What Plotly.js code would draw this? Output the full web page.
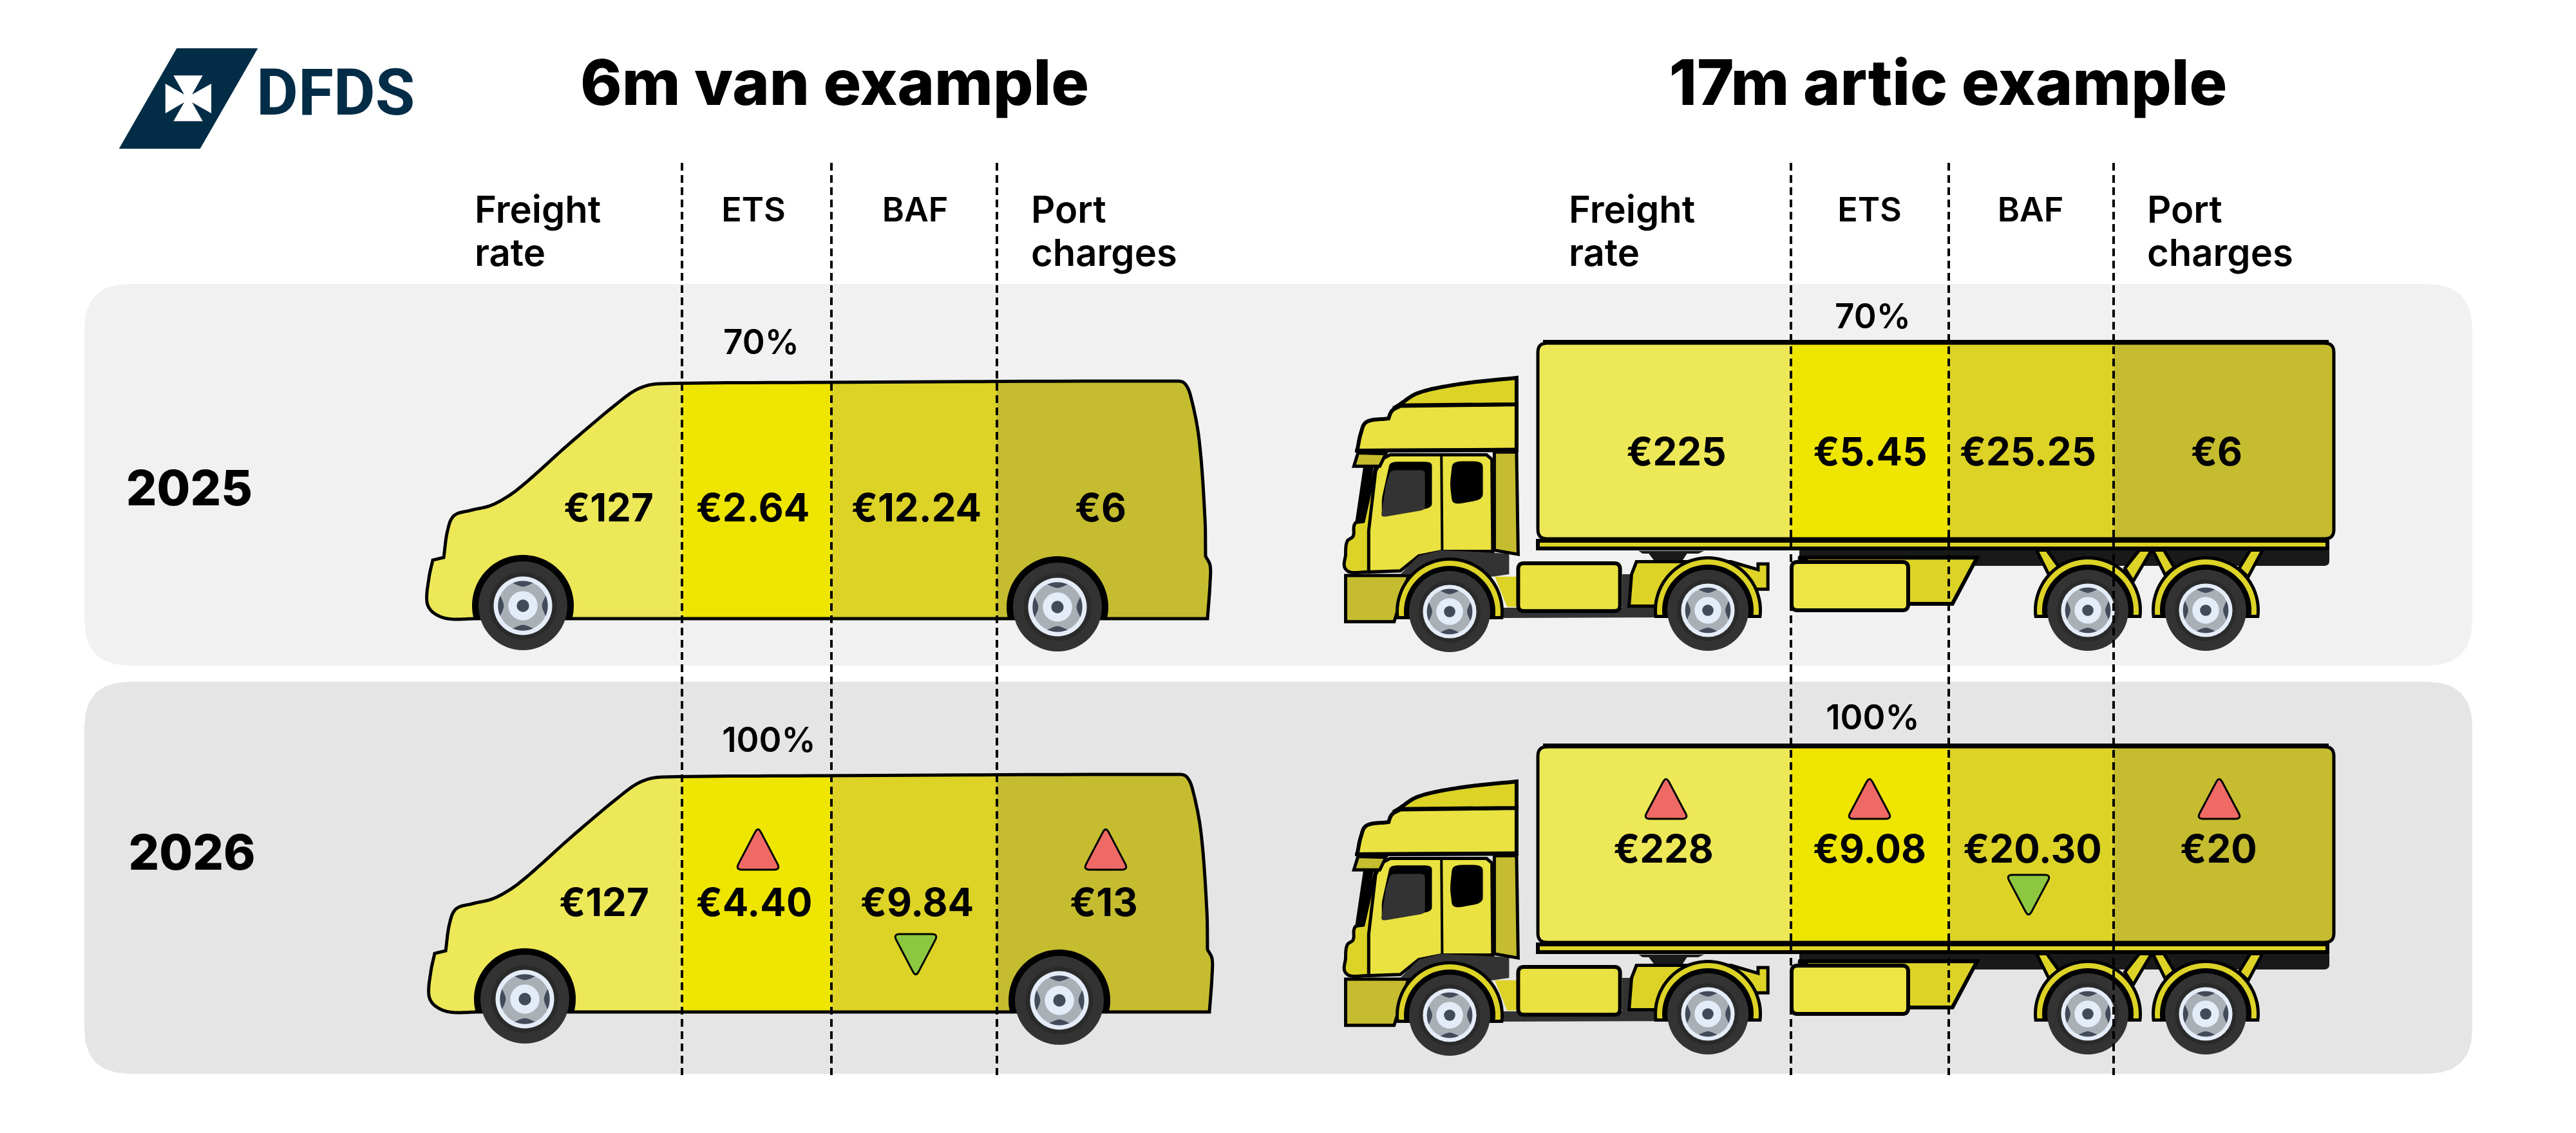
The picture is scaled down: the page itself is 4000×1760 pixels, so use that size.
<!DOCTYPE html>
<html><head><meta charset="utf-8">
<script src="https://cdn.plot.ly/plotly-3.0.1.min.js"></script>
<style>html,body{margin:0;padding:0;background:#fff}#c{width:4000px;height:1760px}</style>
</head><body><div id="c"></div>
<script>
// ---------- chart data ----------
const segments = ["Freight rate","ETS","BAF","Port charges"];
const years = ["2025","2026"];
const etsShare = ["70%","100%"];
const van2025 = [127,2.64,12.24,6];
const van2026 = [127,4.40,9.84,13];
const artic2025 = [225,5.45,25.25,6];
const artic2026 = [228,9.08,20.30,20];
const vehicleTitles = ["6m van example","17m artic example"];
const brand = "DFDS";

// ---------- palette ----------
const BAND = ["#ece857","#eee600","#dcd326","#c6bc2f"];
const INK = "#000000", NAVY = "#032c47", FONT = "Inter, 'Noto Sans', sans-serif";

// ---------- geometry helpers (illustration only) ----------
const shapes = [];
const pathOf = (p, close=true) => "M" + p.map(q => q[0].toFixed(1)+","+q[1].toFixed(1)).join("L") + (close?"Z":"");
function poly(p, fill, stroke, w){ shapes.push({type:"path",path:pathOf(p),xref:"x",yref:"y",layer:"below",
  fillcolor:fill||"rgba(0,0,0,0)",line:{color:stroke||"rgba(0,0,0,0)",width:stroke?(w||4):0}}); }
function line(p, color, w, dash){ shapes.push({type:"path",path:pathOf(p,false),xref:"x",yref:"y",layer:"below",
  line:{color:color,width:w,dash:dash||"solid"}}); }
function disc(cx,cy,r,fill){ shapes.push({type:"circle",xref:"x",yref:"y",layer:"below",x0:cx-r,x1:cx+r,y0:cy-r,y1:cy+r,
  fillcolor:fill,line:{width:0}}); }
function smooth(pts){
  const out=[]; const unit=(i)=>{const a=pts[Math.max(i-1,0)],b=pts[Math.min(i+1,pts.length-1)];
    const dx=b[0]-a[0],dy=b[1]-a[1],d=Math.hypot(dx,dy)||1;return [dx/d,dy/d];};
  for(let i=0;i<pts.length-1;i++){const p=pts[i],q=pts[i+1],d=Math.hypot(q[0]-p[0],q[1]-p[1]);
    const u=unit(i),v=unit(i+1);
    const c1=[p[0]+u[0]*d/3,p[1]+u[1]*d/3],c2=[q[0]-v[0]*d/3,q[1]-v[1]*d/3];
    for(let k=0;k<12;k++){const t=k/12,s=1-t;
      out.push([s*s*s*p[0]+3*s*s*t*c1[0]+3*s*t*t*c2[0]+t*t*t*q[0],
                s*s*s*p[1]+3*s*s*t*c1[1]+3*s*t*t*c2[1]+t*t*t*q[1]]);}}
  out.push(pts[pts.length-1]); return out;
}
function rounded(pts,d){
  const out=[],n=pts.length;
  for(let i=0;i<n;i++){const v=pts[i],a=pts[(i+n-1)%n],b=pts[(i+1)%n];
    const da=Math.hypot(a[0]-v[0],a[1]-v[1]),db=Math.hypot(b[0]-v[0],b[1]-v[1]);
    const r=Math.min(d,da/2,db/2);
    const p=[v[0]+(a[0]-v[0])/da*r,v[1]+(a[1]-v[1])/da*r],q=[v[0]+(b[0]-v[0])/db*r,v[1]+(b[1]-v[1])/db*r];
    for(let k=0;k<=6;k++){const t=k/6,s=1-t;out.push([s*s*p[0]+2*s*t*v[0]+t*t*q[0],s*s*p[1]+2*s*t*v[1]+t*t*q[1]]);}}
  return out;
}
const rect=(x0,y0,x1,y1)=>[[x0,y0],[x1,y0],[x1,y1],[x0,y1]];
function clipX(p,a,b){
  const cut=(pts,inside,x)=>{const o=[];for(let i=0;i<pts.length;i++){const c=pts[i],n=pts[(i+1)%pts.length];
    const ci=inside(c),ni=inside(n); if(ci)o.push(c);
    if(ci!==ni){const t=(x-c[0])/(n[0]-c[0]);o.push([x,c[1]+t*(n[1]-c[1])]);}}return o;};
  return cut(cut(p,q=>q[0]>=a,a),q=>q[0]<=b,b);
}
function bands(outline,edges){ for(let i=0;i<4;i++) poly(clipX(outline,edges[i],edges[i+1]),BAND[i]); }
const shift=(p,dx,dy)=>p.map(q=>[q[0]+dx,q[1]+dy]);
function arch(cx,cy,r,cut){
  const o=[];const s=Math.asin(Math.min(1,Math.max(-1,(cut-cy)/r)));
  const a0=Math.PI-s,a1=2*Math.PI+s;
  for(let k=0;k<=48;k++){const a=a0+(a1-a0)*k/48;o.push([cx+r*Math.cos(a),cy+r*Math.sin(a)]);}
  return o;
}
function wheel(cx,cy,R){
  disc(cx,cy,R,"#333333"); disc(cx,cy,R*.76,"#2a2a2a"); disc(cx,cy,R*.66,"#e3ecf7");
  disc(cx,cy,R*.56,"#aaaeb5");
  for(let q=0;q<4;q++){const th=q*Math.PI/2,o=[];const ro=R*.56;
    for(let k=-6;k<=6;k++){const a=th+k/6*.42;o.push([cx+ro*Math.cos(a),cy+ro*Math.sin(a)]);}
    for(let k=6;k>=-6;k--){const t=k/6,a=th+t*.42,r=ro-R*.13*(1-t*t);o.push([cx+r*Math.cos(a),cy+r*Math.sin(a)]);}
    poly(o,"#434a59");}
  disc(cx,cy,R*.33,"#e3ecf7"); disc(cx,cy,R*.14,"#434a59");
}
function tri(cx,y0,y1,hw,up,fill){
  const p= up? [[cx,y0-7],[cx+hw,y1],[cx-hw,y1]] : [[cx-hw,y0],[cx+hw,y0],[cx,y1+7]];
  poly(rounded(p,10),fill,INK,3);
}
function panel(x0,y0,x1,y1,fill){ poly(rounded(rect(x0,y0,x1,y1),70),fill); }

// ---------- backgrounds ----------
panel(131,441,3839,1034,"#f1f1f1");
panel(131,1059,3839,1668,"#e5e5e5");

// ---------- logo ----------
const L=(p)=>p.map(q=>[150+q[0]*.3316,50+q[1]*.3333]);
poly(L([[375,75],[755,75],[485,543],[105,543]]),NAVY);
poly(L([[360,202],[497,202],[447,290],[537,240],[537,378],[447,327],[497,415],[360,415],[410,327],[322,378],[322,240],[410,290]]),"#ffffff");

// ---------- van ----------
const vanLeft = smooth([[740,961],[695,961],[672,951],[663,935],[666,898],[672,870]]);
const vanHood = smooth([[689,866],[695,824],[705,801],[730,793],[765,784],[804,760],[890,684],[976,613],[1001,600],[1027,596],[1275,594],[1824,592],[1839,595],[1849,616],[1862,683],[1871,804],[1872,864]]);
const vanTail = smooth([[1872,864],[1879,878],[1879,905],[1875,961]]);
const vanOutline = vanLeft.concat(vanHood,vanTail);
function drawVan(dx,dy){
  const o=shift(vanOutline,dx,dy);
  bands(o,[640,1059,1291,1548,1900]);
  poly(o,null,INK,5);
  [[812,941],[1642,943]].forEach(([x,y])=>{
    poly(arch(x+dx,y+dy,79,963+dy),INK);
    wheel(x+dx,y+dy,69);
  });
}
drawVan(0,0); drawVan(3,611);

// ---------- artic ----------
const Z4=(p)=>p.map(q=>[2050+.6378*q[0],503+.357*q[1]]);
const Z5=(p)=>p.map(q=>[2700+.6378*q[0],673+.3333*q[1]]);
const trailerEdges=[2300,2781,3026,3282,3700];
function fender(cx,cy,dy){
  const c=cy+dy,cut=c+12;
  poly(arch(cx,c,84,cut),INK);
  poly(arch(cx,c,79,cut-5),"#dcd326");
  poly(arch(cx,c,71,cut),INK);
}
function drawTruck(dy){
  const S=(p)=>shift(p,0,dy);
  poly(S(rounded(rect(2794,850,3617,879),8)),"#191919");
  [[[725,545],[750,545],[780,625],[755,660]],[[975,545],[1005,545],[960,690],[940,630]],
   [[1008,545],[1035,545],[1060,625],[1038,660]],[[1245,545],[1275,545],[1240,670],[1218,630]]]
   .forEach(q=>poly(S(Z5(q)),"#dcd326",INK,5));
  const box=S(rounded(rect(2388,533,3624,837),14));
  bands(box,trailerEdges);
  poly(box,null,INK,5);
  line(S([[2396,531],[3616,531]]),INK,6);
  poly(S(rect(2388,840,3614,852)),"#dcd326",INK,6);
  poly(S(Z4([[775,988],[935,988],[920,1000],[893,1000],[880,1035],[815,1035],[800,1000],[785,1000]])),"#191919");
  poly(S(Z5([[145,580],[580,580],[520,795],[400,795]])),"#dcd326",INK,6);
  poly(S(rounded(rect(2782,873,2963,948),9)),"#ece544",INK,6);
  poly(S(Z4([[430,1235],[830,1235],[830,1278],[440,1280]])),"#333333");
  poly(S(Z4([[735,1090],[770,1090],[770,1240],[735,1240]])),"#333333");
  poly(S(Z4([[770,1035],[1000,1035],[1066,1070],[1066,1045],[1090,1045],[1090,1155],[1040,1155],[1000,1228],[752,1228],[758,1090]])),"#dcd326",INK,5);
  poly(S(Z4([[425,1100],[482,1100],[482,1232],[455,1232]])),"#dcd326");
  poly(S(rounded(Z4([[482,1042],[730,1042],[730,1250],[482,1250]]),9)),"#e9e240",INK,6);
  poly(S(Z4([[62,1095],[215,1095],[180,1296],[62,1296]])),"#c6bc2f",INK,5);
  poly(S(Z4(smooth([[120,1080],[66,1075],[62,1000],[66,945],[80,925],[85,868],[105,860]]).concat([[135,622],[120,1080]]))),"#dcd326",INK,5);
  poly(S(Z4([[118,1080],[118,900],[135,640],[150,590],[170,570],[405,570],[418,590],[420,990],[295,990],[240,1010],[195,1075]])),"#e9e240",INK,5);
  poly(S(Z4([[195,1090],[240,1010],[295,985],[460,1000],[460,1090],[420,1100]])),"#333333");
  poly(S(Z4([[424,558],[478,558],[482,1003],[424,985]])),"#c6bc2f",INK,5);
  line(S(Z4([[295,572],[297,985]])),INK,4);
  poly(S(Z4(rounded([[170,600],[272,600],[272,800],[150,840],[150,760]],18))),INK);
  poly(S(Z4(rounded([[172,637],[255,637],[255,810],[148,842],[160,700]],14))),"#333333");
  poly(S(Z4(rounded([[322,598],[396,598],[396,765],[322,788],[316,700]],24))),INK);
  poly(S(Z4([[105,622],[130,622],[108,858],[85,865]])),INK);
  poly(S(Z4([[82,620],[92,562],[160,565],[145,620]])),"#c6bc2f",INK,5);
  poly(S(Z4(smooth([[90,552],[100,470],[115,425],[165,412]]).concat(smooth([[165,418],[175,378],[195,357]]),[[478,350],[478,550]]))),"#e9e240",INK,6);
  poly(S(Z4(smooth([[190,355],[240,300],[340,262],[478,235]]).concat([[478,350]]))),"#dcd326",INK,6);
  line(S(Z4([[85,552],[478,548]])),INK,6);
  [[2251,950],[2652,948],[3242,948],[3425,948]].forEach(([x,y])=>{fender(x,y,dy);wheel(x,y+dy,63);});
}
drawTruck(0); drawTruck(627);

// ---------- change indicators, from the year-on-year values ----------
const vanMarkerX=[940,1177,1422,1717], truckMarkerX=[2587,2903,3150,3446];
function indicators(a,b,xs,up,down){ b.forEach((v,i)=>{ if(v>a[i]) tri(xs[i],up[0],up[1],35,true,"#ef6a65");
  else if(v<a[i]) tri(xs[i],down[0],down[1],35,false,"#8dc63f"); }); }
indicators(van2025,van2026,vanMarkerX,[1291,1351],[1451,1511]);
indicators(artic2025,artic2026,truckMarkerX,[1213,1272],[1359,1418]);

// ---------- dashed section dividers ----------
[1059,1291,1548,2781,3026,3282].forEach(x=>line([[x,253],[x,1670]],INK,4,"12px,7px"));

// ---------- text ----------
const fmt=v=>"€"+(Number.isInteger(v)?v:v.toFixed(2));
const labelTrace=(xs,ys,txt,size,weight,pos,color,fam)=>({type:"scatter",mode:"text",x:xs,y:ys,text:txt,
  textposition:pos||"middle center",cliponaxis:false,hoverinfo:"skip",
  textfont:{family:fam||FONT,size:size,weight:weight,color:color||INK}});
const headWords=segments.map(s=>s.split(" "));
const headRow1=headWords.map(w=>w[0]), headRow2=headWords.map(w=>w[1]||"");
const traces=[
  labelTrace([1296,3025],[138,138],vehicleTitles,98,800),
  labelTrace([398],[153],[brand],100,700,"middle right",NAVY,"Roboto, sans-serif"),
  labelTrace([294,298],[766,1332],years,75,800),
  labelTrace([1182,2908],[537,497],[etsShare[0],etsShare[0]],53,600),
  labelTrace([1194,2908],[1155,1120],[etsShare[1],etsShare[1]],53,600),
  labelTrace([737,2436],[331,331],[headRow1[0],headRow1[0]],58,600,"middle right"),
  labelTrace([737,2436],[398,398],[headRow2[0],headRow2[0]],58,600,"middle right"),
  labelTrace([1170,2903],[331,331],[headRow1[1],headRow1[1]],52,600),
  labelTrace([1421,3153],[331,331],[headRow1[2],headRow1[2]],52,600),
  labelTrace([1601,3334],[331,331],[headRow1[3],headRow1[3]],58,600,"middle right"),
  labelTrace([1601,3334],[398,398],[headRow2[3],headRow2[3]],58,600,"middle right"),
  labelTrace([945,1169,1423,1709],[795,795,795,795],van2025.map(fmt),60,700),
  labelTrace([938,1171,1424,1714],[1408,1408,1408,1408],van2026.map(fmt),60,700),
  labelTrace([2603,2904,3149,3442],[708,708,708,708],artic2025.map(fmt),60,700),
  labelTrace([2583,2903,3156,3445],[1325,1325,1325,1325],artic2026.map(fmt),60,700)
];

Plotly.newPlot("c",traces,{
  width:4000,height:1760,margin:{l:0,r:0,t:0,b:0,pad:0},paper_bgcolor:"#ffffff",plot_bgcolor:"#ffffff",
  showlegend:false,hovermode:false,
  xaxis:{range:[0,4000],visible:false,fixedrange:true},
  yaxis:{range:[1760,0],visible:false,fixedrange:true},
  shapes:shapes
},{displayModeBar:false,staticPlot:true});
</script></body></html>
